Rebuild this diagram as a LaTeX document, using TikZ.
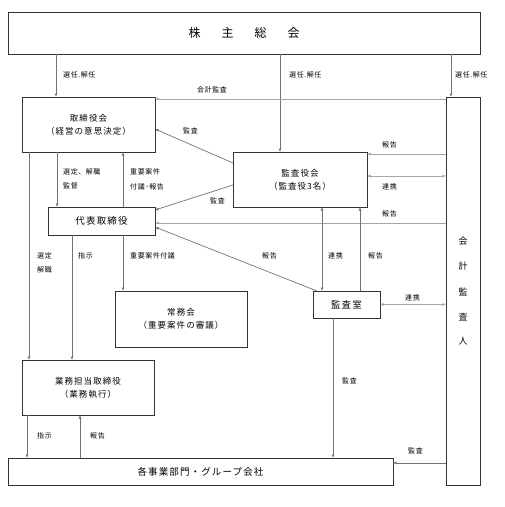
\documentclass[tikz,border=0pt]{standalone}
\usepackage{fontspec}
\setmainfont{Noto Sans CJK JP}
\newfontfamily\lblfont[LetterSpace=8]{Noto Sans CJK JP}
\newfontfamily\boxfont[LetterSpace=12]{Noto Sans CJK JP}
\usetikzlibrary{arrows.meta,calc}
\begin{document}
\begin{tikzpicture}[x=1pt,y=-1pt,
  box/.style={draw=black!80, line width=0.8pt, anchor=north west, inner sep=0pt, outer sep=0pt, align=center, font=\boxfont\fontsize{9.5}{11}\selectfont},
  boxtwo/.style={box, font=\boxfont\fontsize{8.5}{13}\selectfont},
  con/.style={draw=black!55, line width=0.7pt},
  lcon/.style={draw=black!35, line width=0.7pt},
  arr/.style={-{Latex[length=3.5pt,width=3pt]}},
  darr/.style={{Latex[length=3.5pt,width=3pt]}-{Latex[length=3.5pt,width=3pt]}},
  lbl/.style={anchor=west, inner sep=0pt, font=\lblfont\fontsize{7}{8}\selectfont}]
\useasboundingbox (0,0) rectangle (505,507);
% boxes
\node[box, minimum width=472pt, minimum height=42pt, font=\fontsize{12}{14}\selectfont] (soukai) at (8,12) {株\hspace{21pt}主\hspace{21pt}総\hspace{21pt}会};
\node[boxtwo, minimum width=133pt, minimum height=55pt] (tori) at (22,97) {取締役会\\（経営の意思決定）};
\node[boxtwo, minimum width=134pt, minimum height=55pt] (kyk) at (233,152) {監査役会\\（監査役3名）};
\node[box, minimum width=107pt, minimum height=28pt] (daihyo) at (48,207) {代表取締役};
\node[boxtwo, minimum width=132pt, minimum height=56pt] (jomu) at (115,291) {常務会\\（重要案件の審議）};
\node[box, minimum width=67pt, minimum height=27pt] (ksh) at (313,291) {監査室};
\node[boxtwo, minimum width=132pt, minimum height=55pt] (gyomu) at (22,360) {業務担当取締役\\（業務執行）};
\node[box, minimum width=385pt, minimum height=27pt] (jigyo) at (8,458) {各事業部門・グループ会社};
\node[box, minimum width=34pt, minimum height=388pt] (kaikei) at (446,97) {};
\foreach \c/\yy in {会/241,計/266,監/292,査/317,人/341}
  \node[font=\fontsize{9}{10}\selectfont, inner sep=0pt] at (463,\yy) {\c};
% connectors from 株主総会
\draw[con,arr] ($(soukai.south west)+(48,0)$) -- ($(tori.north west)+(34,0)$);
\draw[con,arr] ($(soukai.south west)+(272,0)$) -- ($(kyk.north west)+(47,0)$);
\draw[con,arr] ($(soukai.south west)+(443,0)$) -- ($(kaikei.north west)+(5,0)$);
% from 会計監査人
\draw[lcon,arr] ($(kaikei.north west)+(0,2)$) -- ($(tori.north east)+(0,2)$);
\draw[lcon,arr] ($(kaikei.north west)+(0,57)$) -- ($(kyk.north east)+(0,2)$);
\draw[lcon,darr] ($(kyk.north east)+(0,24)$) -- ($(kaikei.north west)+(0,79)$);
\draw[lcon,arr] ($(kaikei.north west)+(0,126)$) -- ($(daihyo.north east)+(0,16)$);
\draw[lcon,darr] (ksh.east) -- (ksh.east -| kaikei.west);
\draw[con,arr] ($(kaikei.north west)+(0,366)$) -- ($(jigyo.north east)+(0,5)$);
% 取締役会 <-> 代表取締役
\draw[con,arr] ($(tori.south west)+(35,0)$) -- ($(daihyo.north west)+(9,0)$);
\draw[con,arr] ($(daihyo.north west)+(75,0)$) -- ($(tori.south west)+(101,0)$);
% 監査役会 -> 取締役会 / 代表取締役
\draw[con,arr] ($(kyk.north west)+(0,11)$) -- ($(tori.north east)+(0,32)$);
\draw[con,arr] ($(kyk.north west)+(0,33)$) -- ($(daihyo.north east)+(0,3)$);
% 監査室
\draw[con,arr] ($(ksh.north west)+(4,0)$) -- ($(daihyo.north east)+(0,20)$);
\draw[con,darr] ($(kyk.south west)+(89,0)$) -- ($(ksh.north west)+(9,0)$);
\draw[con,arr] ($(ksh.north west)+(47,0)$) -- ($(kyk.south west)+(127,0)$);
\draw[con,arr] ($(ksh.south west)+(20,0)$) -- ($(jigyo.north west)+(325,0)$);
% 代表取締役 down
\draw[con,arr] ($(daihyo.south west)+(24,0)$) -- ($(gyomu.north west)+(50,0)$);
\draw[con,arr] ($(daihyo.south west)+(75,0)$) -- ($(jomu.north west)+(8,0)$);
\draw[con,arr] ($(tori.south west)+(7,0)$) -- ($(gyomu.north west)+(7,0)$);
% 業務担当 <-> 各事業部門
\draw[con,arr] ($(gyomu.south west)+(5,0)$) -- ($(jigyo.north west)+(19,0)$);
\draw[con,arr] ($(jigyo.north west)+(72,0)$) -- ($(gyomu.south west)+(58,0)$);
% labels
\node[lbl] (l1) at (63,75) {選任.解任};
\node[lbl] (l2) at (289,75) {選任.解任};
\node[lbl] (l3) at (455,75) {選任.解任};
\node[lbl] (l4) at (197,90) {会計監査};
\node[lbl] (l5) at (183,131) {監査};
\node[lbl] (l6) at (210,201) {監査};
\node[lbl] (l7) at (382,145) {報告};
\node[lbl] (l8) at (382,187) {連携};
\node[lbl] (l9) at (382,214) {報告};
\node[lbl] (l10) at (63,172) {選定、解職};
\node[lbl] (l11) at (63,186) {監督};
\node[lbl] (l12) at (130,172) {重要案件};
\node[lbl] (l13) at (130,187) {付議･報告};
\node[lbl] (l14) at (37,256) {選定};
\node[lbl] (l15) at (37,270) {解職};
\node[lbl] (l16) at (78,256) {指示};
\node[lbl] (l17) at (130,256) {重要案件付議};
\node[lbl] (l18) at (262,256) {報告};
\node[lbl] (l19) at (328,256) {連携};
\node[lbl] (l20) at (368,256) {報告};
\node[lbl] (l21) at (405,298) {連携};
\node[lbl] (l22) at (342,381) {監査};
\node[lbl] (l23) at (408,451) {監査};
\node[lbl] (l24) at (37,436) {指示};
\node[lbl] (l25) at (90,436) {報告};
\end{tikzpicture}
\end{document}
